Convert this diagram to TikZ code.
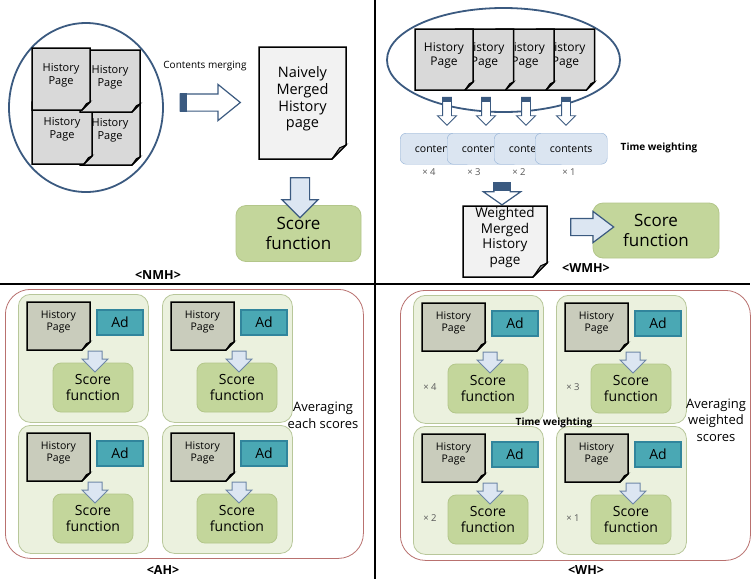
\documentclass[tikz,border=0pt]{standalone}
\usepackage{fontspec}
\setmainfont{Open Sans}
\usetikzlibrary{shapes.arrows,calc}

\definecolor{ringblue}{HTML}{3B5A80}
\definecolor{arrowfill}{HTML}{DCE6F2}
\definecolor{arrowline}{HTML}{6E87A8}
\definecolor{pagegray}{HTML}{D9D9D9}
\definecolor{naivefill}{HTML}{F2F2F2}
\definecolor{ahgray}{HTML}{C9CCBC}
\definecolor{scoregreen}{HTML}{C3D69B}
\definecolor{scoreline}{HTML}{B3C68A}
\definecolor{cellfill}{HTML}{EBF1DE}
\definecolor{cellline}{HTML}{B8C79A}
\definecolor{outerline}{HTML}{B9716F}
\definecolor{adfill}{HTML}{4AA8B4}
\definecolor{adline}{HTML}{31859C}
\definecolor{contentsfill}{HTML}{DBE5F1}
\definecolor{contentsline}{HTML}{95B3D7}
\definecolor{weightgray}{HTML}{595959}

\tikzset{
  divider/.style={line width=2.5pt},
  ring/.style={draw=ringblue, line width=1.8pt},
  pageline/.style={draw=black, line width=1.5pt},
  pagetext/.style={align=center, inner sep=0pt},
  smallpage/.style={font=\fontsize{11}{13}\selectfont},
  wmhpage/.style={font=\fontsize{12}{13.5}\selectfont},
  cellpage/.style={font=\fontsize{10.5}{12.5}\selectfont},
  scorebox/.style={draw=scoreline, fill=scoregreen, rounded corners=8pt,
    align=center, line width=0.8pt},
  bigscore/.style={scorebox, rounded corners=10pt, font=\fontsize{17}{20}\selectfont},
  cellscore/.style={scorebox, minimum width=80pt, minimum height=49pt,
    font=\fontsize{14}{16}\selectfont},
  cellbox/.style={draw=cellline, fill=cellfill, rounded corners=12pt, line width=0.8pt,
    anchor=north west, minimum width=130pt, minimum height=128pt},
  outerbox/.style={draw=outerline, line width=0.8pt, rounded corners=25pt, anchor=north west},
  adbox/.style={draw=adline, fill=adfill, line width=1.5pt, minimum width=46pt,
    minimum height=25pt, font=\fontsize{14}{16}\selectfont},
  contentsbox/.style={draw=contentsline, fill=contentsfill, rounded corners=6pt,
    minimum width=72pt, minimum height=31pt, anchor=north west,
    font=\fontsize{10.5}{12}\selectfont},
  blockarrow/.style={single arrow, draw=ringblue, line width=1.2pt},
  lightarrow/.style={blockarrow, fill=arrowfill},
  hollowarrow/.style={blockarrow, fill=white},
  panellabel/.style={font=\bfseries\fontsize{12.5}{14}\selectfont},
  notelabel/.style={font=\bfseries\fontsize{10}{12}\selectfont},
  sidelabel/.style={align=center, font=\fontsize{13}{16.7}\selectfont},
  weightlabel/.style={font=\fontsize{9.5}{11}\selectfont, text=weightgray},
}

% page with folded corner: [node opts]{name}{x}{y}{w}{h}{fill}{fold}{text}
\newcommand{\histpage}[9][]{%
  \filldraw[pageline, fill=#7] (#3,#4) -- ++(#5,0) -- ++(0,{#6-#8}) -- ++({-(#8)},#8)
    -- ++({#8-(#5)},0) -- cycle;
  \filldraw[pageline, line width=1pt, fill=#7!55!black] ({#3+#5-#8},{#4+#6})
    -- ++(#8,{-(#8)}) -- ++({-0.45*#8},{0.2*#8}) -- cycle;
  \node[pagetext, #1] (#2) at ({#3+#5/2},{#4+#6/2-4}) {#9};
}

% one history page + ad + score block
\newcommand{\scorecell}[3]{%
  \node[cellbox] (#1cell) at (#2,#3) {};
  \histpage[cellpage]{#1page}{#2+9}{#3+8}{63}{48}{ahgray}{8}{History\\Page}
  \node[adbox] (#1ad) at (#2+102,#3+28.5) {Ad};
  \node[cellscore] (#1score) at (#2+75,#3+93.5) {Score\\function};
  \node[lightarrow, shape border rotate=270, minimum height=20pt, inner sep=6.5pt,
    single arrow head extend=6pt, draw=arrowline, line width=1pt] (#1arrow) at (#2+77,#3+64) {};
}

\begin{document}
\begin{tikzpicture}[x=1pt, y=-1pt]
  \useasboundingbox (0,0) rectangle (754,579);
  \fill[white] (0,0) rectangle (754,579);

  % <NMH>
  \draw[ring] (86,107.5) ellipse [x radius=77pt, y radius=84.5pt];
  \histpage[smallpage]{nmhD}{80}{103}{60}{62}{pagegray}{8}{History\\Page}
  \histpage[smallpage]{nmhC}{32}{102}{60}{62}{pagegray}{8}{History\\Page}
  \histpage[smallpage]{nmhB}{80}{50}{60}{62}{pagegray}{8}{History\\Page}
  \histpage[smallpage]{nmhA}{32}{48}{58}{62}{pagegray}{8}{History\\Page}
  \node[font=\fontsize{10}{12}\selectfont] (nmhnote) at (205,66) {Contents merging};
  \node[hollowarrow, minimum height=60pt, inner sep=8pt, single arrow head extend=9.5pt,
    single arrow tip angle=78] (nmharrow) at (205,102.5) {};
  \fill[ringblue] (nmharrow.before tail) rectangle ($(nmharrow.after tail)+(7,0)$);
  \histpage[font=\fontsize{14.5}{16.7}\selectfont]{naive}{259}{47}{87}{112}{naivefill}{14}%
    {Naively\\Merged\\History\\page}
  \node[bigscore, minimum width=125pt, minimum height=56pt] (nmhscore) at (298.5,233.5)
    {Score\\function};
  \node[lightarrow, shape border rotate=270, minimum height=40pt, inner sep=9pt,
    single arrow head extend=8.5pt] (nmhdown) at (300,193) {};
  \node[panellabel] (nmhlabel) at (158,275) {<NMH>};

  % <WMH>
  \draw[ring] (503.5,60) ellipse [x radius=116.5pt, y radius=52pt];
  \foreach \i in {3,2,1,0}
    \histpage[wmhpage]{wmhpage\i}{415+40.5*\i}{29}{58}{61}{pagegray}{8}{History\\Page};
  \foreach \x [count=\i] in {447,486,526,566} {
    \node[hollowarrow, shape border rotate=270, minimum height=28pt, inner sep=4pt,
      single arrow head extend=5pt, line width=0.9pt] (wmhdrop\i) at (\x,109) {};
    \fill[ringblue] (wmhdrop\i.before tail) rectangle ($(wmhdrop\i.after tail)+(0,5)$);
  }
  \foreach \x/\wx/\wt [count=\i] in {400/429/4, 447/474/3, 494/519/2, 535/569/1} {
    \node[contentsbox] (contents\i) at (\x,133) {contents};
    \node[weightlabel] (contentswt\i) at (\wx,172) {× \wt};
  }
  \node[notelabel] (wmhnote) at (659,148) {Time weighting};
  \node[hollowarrow, shape border rotate=270, minimum height=22pt, inner sep=7.5pt,
    single arrow head extend=10.5pt, single arrow tip angle=110] (wmhdown) at (502,191) {};
  \fill[ringblue] (wmhdown.before tail) rectangle ($(wmhdown.after tail)+(0,9)$);
  \histpage[font=\fontsize{13.5}{15.5}\selectfont]{weighted}{463}{206}{84}{71}{naivefill}{14}%
    {Weighted\\Merged\\History\\page}
  \node[bigscore, minimum width=126pt, minimum height=55pt] (wmhscore) at (656,230.5)
    {Score\\function};
  \node[lightarrow, minimum height=43pt, inner sep=8pt, single arrow head extend=7pt,
    single arrow tip angle=74] (wmhright) at (586.5,227) {};
  \node[panellabel] (wmhlabel) at (586,268) {<WMH>};

  % <AH>
  \node[outerbox, minimum width=358pt, minimum height=269pt] (ahouter) at (5,289) {};
  \foreach \cx/\cy/\nm in {18/294/ahA, 162/294/ahB, 18/425/ahC, 162/425/ahD}
    \scorecell{\nm}{\cx}{\cy};
  \node[sidelabel] (ahnote) at (323,415) {Averaging\\each scores};
  \node[panellabel] (ahlabel) at (163,570) {<AH>};

  % <WH>
  \node[outerbox, minimum width=350pt, minimum height=270pt] (whouter) at (400,290) {};
  \foreach \cx/\cy/\nm/\wt in {413/295/whA/4, 556/295/whB/3, 413/426/whC/2, 556/426/whD/1} {
    \scorecell{\nm}{\cx}{\cy}
    \node[weightlabel] (\nm wt) at (\cx+17,\cy+92) {× \wt};
  }
  \node[notelabel] (whnote) at (554,423) {Time weighting};
  \node[sidelabel] (whside) at (716,420) {Averaging\\weighted\\scores};
  \node[panellabel] (whlabel) at (586,570) {<WH>};

  % dividers
  \draw[divider] (375,0) -- (375,579);
  \draw[divider] (0,284) -- (750,284);
\end{tikzpicture}
\end{document}
